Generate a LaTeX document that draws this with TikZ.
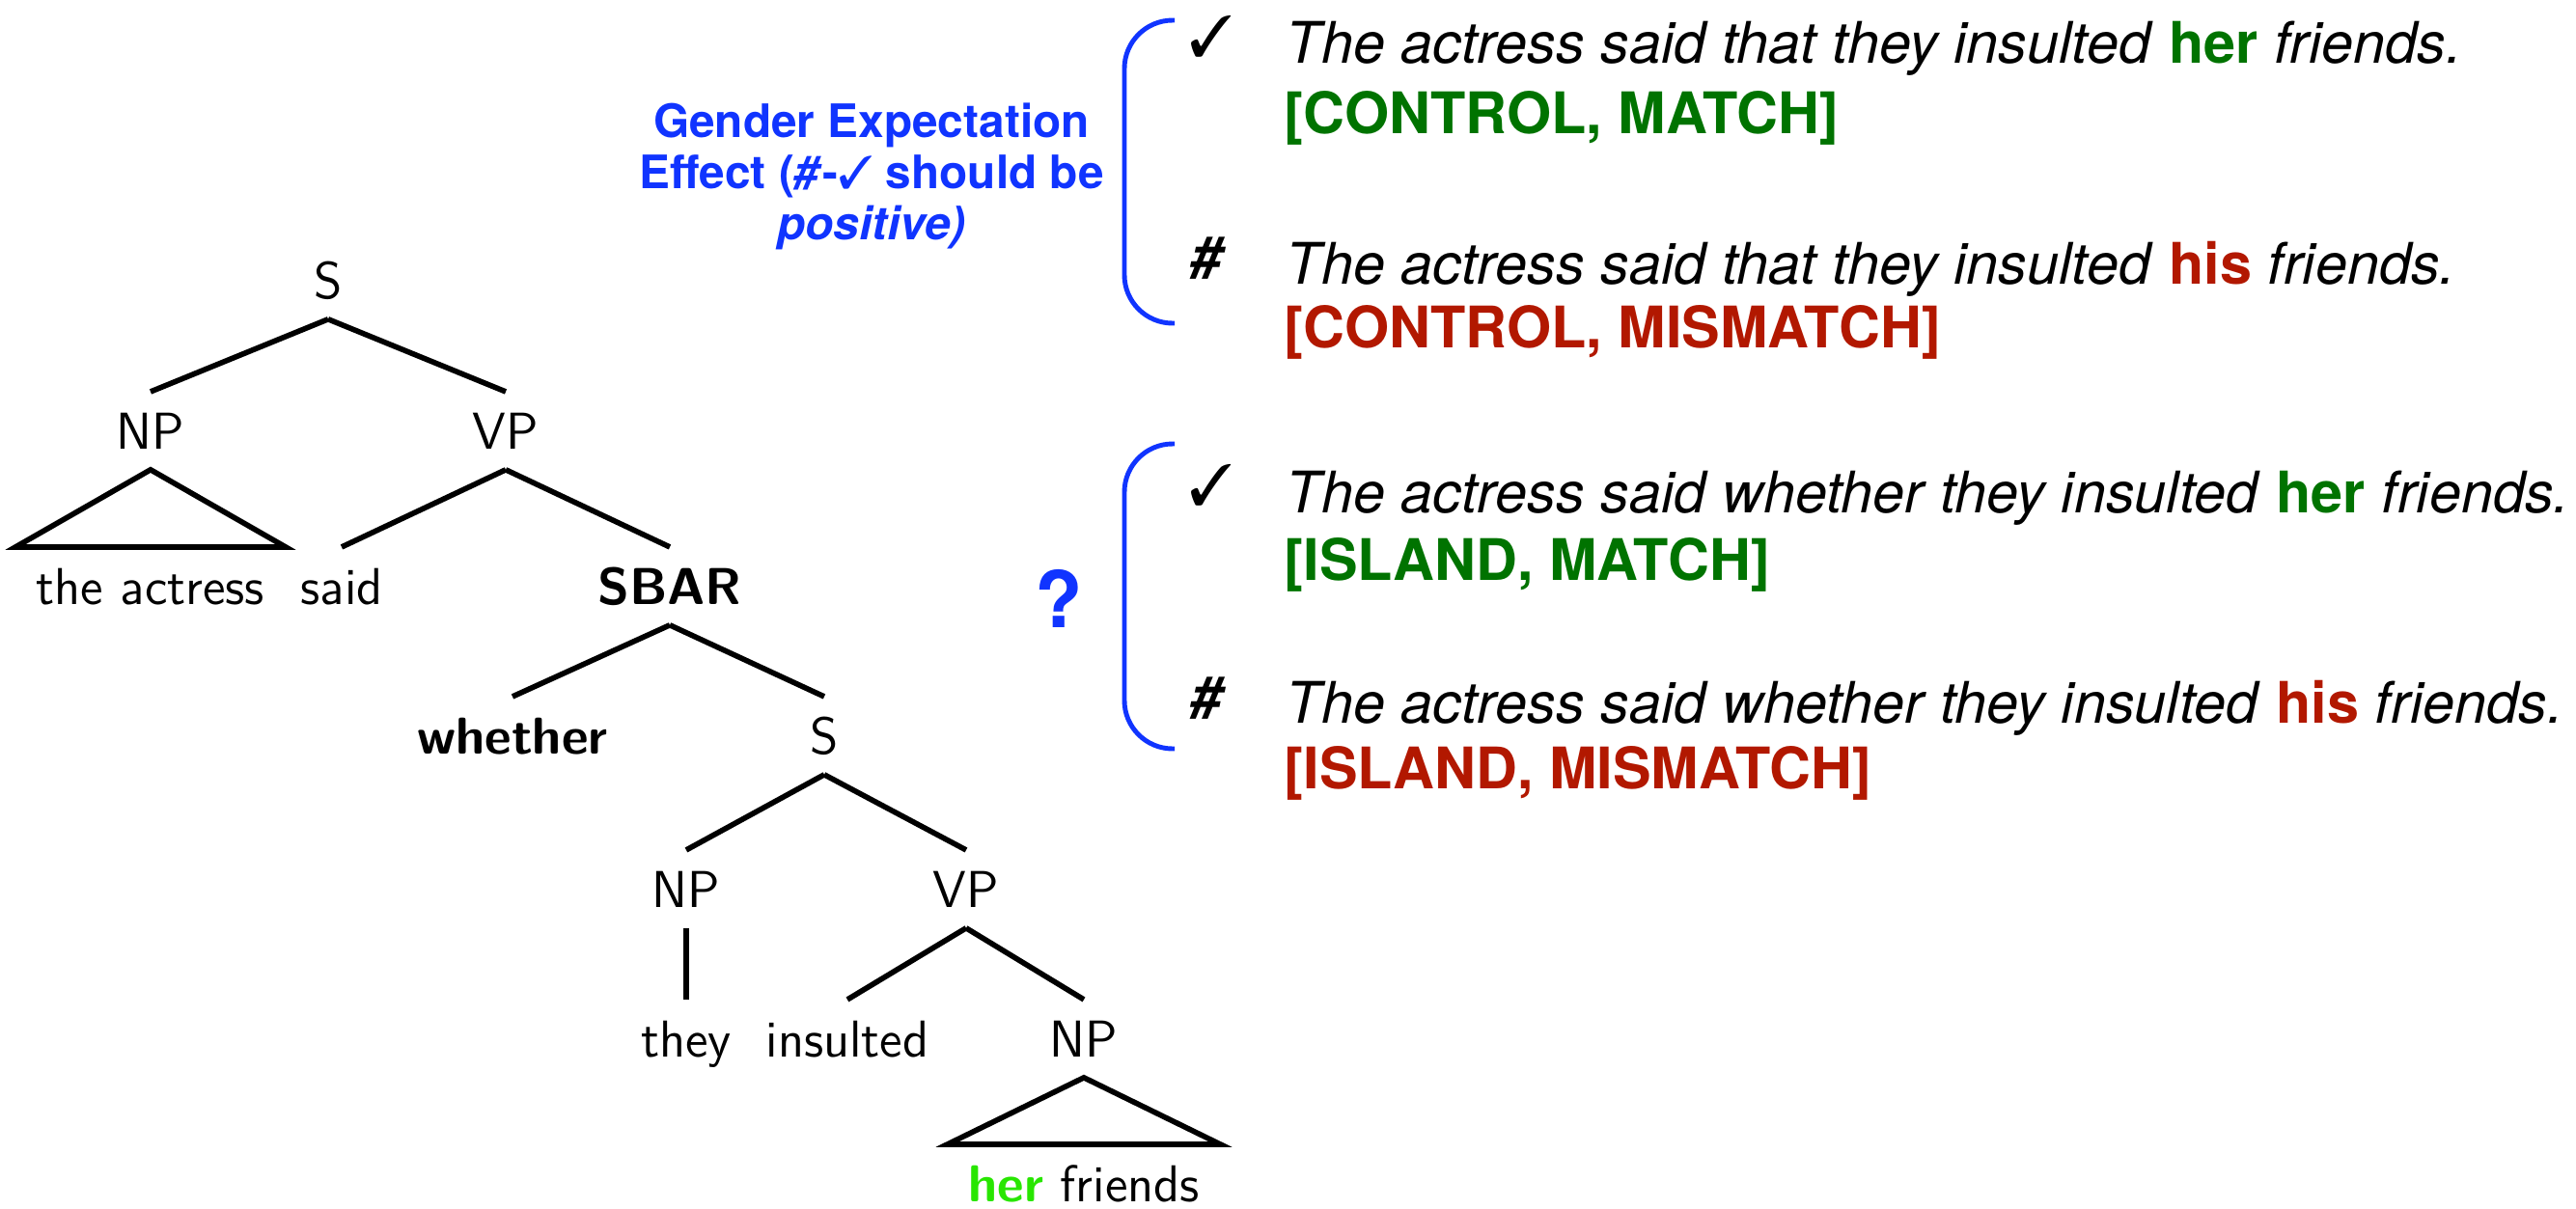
\documentclass[tikz,border=0pt]{standalone}
\usepackage{fontspec}
\usepackage{pifont}
\newfontfamily\helv{TeX Gyre Heros}
\definecolor{matchgreen}{RGB}{0,115,0}
\definecolor{mismatchred}{RGB}{178,24,0}
\definecolor{effectblue}{RGB}{16,52,255}
\definecolor{leafgreen}{RGB}{40,230,0}
\newcommand{\good}[1]{\textup{\bfseries\color{matchgreen}#1}}
\newcommand{\bad}[1]{\textup{\bfseries\color{mismatchred}#1}}

\begin{document}
\begin{tikzpicture}[line width=1.6pt,
  cat/.style={anchor=base,inner sep=0.19cm,text height=10.6pt,text depth=0pt,
    font=\sffamily\fontsize{15.3}{18}\selectfont},
  head/.style={cat,font=\sffamily\bfseries\fontsize{15.3}{18}\selectfont},
  sent/.style={anchor=base west,inner sep=0pt,font=\helv\itshape\fontsize{16.9}{20}\selectfont},
  tag/.style={anchor=base west,inner sep=0pt,font=\helv\bfseries\fontsize{16.9}{20}\selectfont},
  judge/.style={inner sep=0pt,font=\helv\bfseries\itshape\fontsize{17}{20}\selectfont},
  bracket/.style={effectblue,line width=1.4pt,rounded corners=0.5cm}]
  \useasboundingbox (0,0) rectangle (26.69,-12.52);

  % the parse tree
  \node[cat] (s) at (3.40,-3.09) {S};
  \node[cat] (np) at (1.56,-4.65) {NP};
  \node[cat] (vp) at (5.24,-4.65) {VP};
  \node[cat] (actress) at (1.56,-6.26) {the actress};
  \node[cat] (said) at (3.54,-6.26) {said};
  \node[head] (sbar) at (6.94,-6.26) {SBAR};
  \node[head] (whether) at (5.31,-7.81) {whether};
  \node[cat] (s2) at (8.54,-7.81) {S};
  \node[cat] (np2) at (7.11,-9.40) {NP};
  \node[cat] (vp2) at (10.01,-9.40) {VP};
  \node[cat] (they) at (7.11,-10.95) {they};
  \node[cat] (insulted) at (8.78,-10.95) {insulted};
  \node[cat] (np3) at (11.23,-10.95) {NP};
  \node[cat] (friends) at (11.23,-12.45) {\textcolor{leafgreen}{\bfseries her} friends};

  \path (s.south) edge (np.north)
        (s.south) edge (vp.north)
        (vp.south) edge (said.north)
        (vp.south) edge (sbar.north)
        (sbar.south) edge (whether.north)
        (sbar.south) edge (s2.north)
        (s2.south) edge (np2.north)
        (s2.south) edge (vp2.north)
        (np2.south) edge (they.north)
        (vp2.south) edge (insulted.north)
        (vp2.south) edge (np3.north);
  \draw (np.south) -- (actress.north east) -- (actress.north west) -- cycle;
  \draw (np3.south) -- (friends.north east) -- (friends.north west) -- cycle;

  % control sentences
  \draw[bracket] (12.17,-0.21) -- (11.65,-0.21) -- (11.65,-3.35) -- (12.17,-3.35);
  \node[judge] (ok1) at (12.55,-0.38) {\ding{51}};
  \node[sent] (c1) at (13.30,-0.65) {The actress said that they insulted \good{her} friends.};
  \node[tag,matchgreen] (c1tag) at (13.28,-1.38) {[CONTROL, MATCH]};
  \node[judge] (odd1) at (12.50,-2.68) {\#};
  \node[sent] (c2) at (13.30,-2.94) {The actress said that they insulted \bad{his} friends.};
  \node[tag,mismatchred] (c2tag) at (13.28,-3.60) {[CONTROL, MISMATCH]};

  \node[effectblue,align=center,inner sep=0pt,
    font=\helv\bfseries\fontsize{13.6}{15.1}\selectfont] (effect) at (9.03,-1.83)
    {Gender Expectation\\Effect (\textit{\#}-\ding{51} should be\\\textit{positive)}};

  % island sentences
  \draw[bracket] (12.17,-4.60) -- (11.65,-4.60) -- (11.65,-7.76) -- (12.17,-7.76);
  \node[judge] (ok2) at (12.55,-5.03) {\ding{51}};
  \node[sent] (i1) at (13.30,-5.31) {The actress said whether they insulted \good{her} friends.};
  \node[tag,matchgreen] (i1tag) at (13.28,-6.01) {[ISLAND, MATCH]};
  \node[judge] (odd2) at (12.50,-7.24) {\#};
  \node[sent] (i2) at (13.30,-7.49) {The actress said whether they insulted \bad{his} friends.};
  \node[tag,mismatchred] (i2tag) at (13.28,-8.17) {[ISLAND, MISMATCH]};

  \node[effectblue,inner sep=0pt,font=\helv\bfseries\fontsize{23}{26}\selectfont]
    (unknown) at (10.97,-6.20) {?};
\end{tikzpicture}
\end{document}
